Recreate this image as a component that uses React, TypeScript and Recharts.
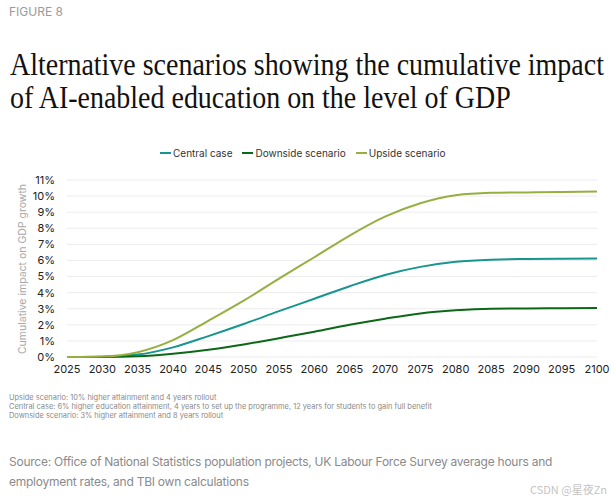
import { CartesianGrid, Line, LineChart, XAxis, YAxis } from "recharts";

const years = [2025, 2030, 2035, 2040, 2045, 2050, 2055, 2060, 2065, 2070, 2075, 2080, 2085, 2090, 2095, 2100];
const centralCase = [0, 0.02, 0.15, 0.6, 1.3, 2.05, 2.85, 3.62, 4.4, 5.1, 5.6, 5.92, 6.05, 6.09, 6.11, 6.12];
const downsideScenario = [0, 0, 0.04, 0.2, 0.45, 0.78, 1.17, 1.57, 2.0, 2.38, 2.71, 2.9, 3.0, 3.02, 3.03, 3.04];
const upsideScenario = [0, 0.03, 0.3, 1.05, 2.25, 3.5, 4.87, 6.2, 7.55, 8.72, 9.55, 10.05, 10.2, 10.23, 10.26, 10.28];

const xTicks = [2025, 2030, 2035, 2040, 2045, 2050, 2055, 2060, 2065, 2070, 2075, 2080, 2085, 2090, 2095, 2100];
const yTicks = [0, 1, 2, 3, 4, 5, 6, 7, 8, 9, 10, 11];

const series = [
  { key: "central", name: "Central case", color: "#17958e", values: centralCase },
  { key: "downside", name: "Downside scenario", color: "#0c6816", values: downsideScenario },
  { key: "upside", name: "Upside scenario", color: "#95af40", values: upsideScenario },
];

const titleLines = [
  "Alternative scenarios showing the cumulative impact",
  "of AI-enabled education on the level of GDP",
];

const notes = [
  "Upside scenario: 10% higher attainment and 4 years rollout",
  "Central case: 6% higher education attainment, 4 years to set up the programme, 12 years for students to gain full benefit",
  "Downside scenario: 3% higher attainment and 8 years rollout",
];

const sourceLines = [
  "Source: Office of National Statistics population projects, UK Labour Force Survey average hours and",
  "employment rates, and TBI own calculations",
];

const data = years.map((year, i) => {
  const row: Record<string, number> = { year };
  for (const s of series) row[s.key] = s.values[i];
  return row;
});

const sans = "Inter, 'Noto Sans', sans-serif";
const serif = "'Liberation Serif', serif";
const tick = { fill: "#222222", fontSize: 11, fontFamily: sans };

export default function App() {
  return (
    <div
      style={{
        position: "absolute",
        left: 0,
        top: 0,
        width: 611,
        height: 500,
        background: "#ffffff",
        fontFamily: sans,
        overflow: "hidden",
      }}
    >
      <svg width={611} height={130} style={{ position: "absolute", left: 0, top: 0 }}>
        <text x={9} y={16} fontSize={12} fill="#9a9a9a" fontFamily={sans}>
          FIGURE 8
        </text>
        {/* headline face is condensed, so squeeze Liberation Serif horizontally */}
        <g transform="translate(10,0) scale(0.902,1)">
          {titleLines.map((line, i) => (
            <text key={line} x={0} y={75 + i * 33} fontSize={31} fill="#111111" fontFamily={serif}>
              {line}
            </text>
          ))}
        </g>
      </svg>

      <div
        style={{
          position: "absolute",
          left: 160,
          top: 147,
          display: "flex",
          gap: 10,
          fontSize: 10,
          color: "#333333",
        }}
      >
        {series.map((s) => (
          <div key={s.key} style={{ display: "flex", alignItems: "center", gap: 2 }}>
            <span style={{ width: 11, height: 2, background: s.color, display: "inline-block" }} />
            <span>{s.name}</span>
          </div>
        ))}
      </div>

      <div
        style={{
          position: "absolute",
          left: 22,
          top: 269,
          transform: "translate(-50%, -50%) rotate(-90deg)",
          whiteSpace: "nowrap",
          fontSize: 10.5,
          color: "#a8a8a8",
        }}
      >
        Cumulative impact on GDP growth
      </div>

      <div style={{ position: "absolute", left: 0, top: 170 }}>
        <LineChart
          width={611}
          height={215}
          data={data}
          margin={{ top: 10, right: 14, bottom: 0, left: 10 }}
        >
          <CartesianGrid vertical={false} stroke="#ececec" />
          <XAxis
            dataKey="year"
            type="number"
            domain={[2025, 2100]}
            ticks={xTicks}
            tick={tick}
            tickLine={false}
            axisLine={false}
            height={28}
            interval={0}
          />
          <YAxis
            domain={[0, 11]}
            ticks={yTicks}
            tickFormatter={(v: number) => `${v}%`}
            tick={tick}
            tickLine={false}
            axisLine={false}
            width={57}
            tickMargin={6}
            interval={0}
          />
          {series.map((s) => (
            <Line
              key={s.key}
              type="monotone"
              dataKey={s.key}
              name={s.name}
              stroke={s.color}
              strokeWidth={2}
              dot={false}
              isAnimationActive={false}
            />
          ))}
        </LineChart>
      </div>

      <div
        style={{
          position: "absolute",
          left: 9,
          top: 393,
          fontSize: 7.45,
          lineHeight: "9.2px",
          color: "#8a8a8a",
        }}
      >
        {notes.map((n) => (
          <div key={n}>{n}</div>
        ))}
      </div>

      <div
        style={{
          position: "absolute",
          left: 9,
          top: 452,
          fontSize: 12,
          letterSpacing: -0.25,
          lineHeight: "20px",
          color: "#8a8a8a",
        }}
      >
        {sourceLines.map((l) => (
          <div key={l}>{l}</div>
        ))}
      </div>

      <div
        style={{
          position: "absolute",
          right: 4,
          top: 481,
          fontSize: 11,
          color: "#c4c4c4",
          fontFamily: "'Noto Sans CJK SC', sans-serif",
        }}
      >
        CSDN @星夜Zn
      </div>
    </div>
  );
}
